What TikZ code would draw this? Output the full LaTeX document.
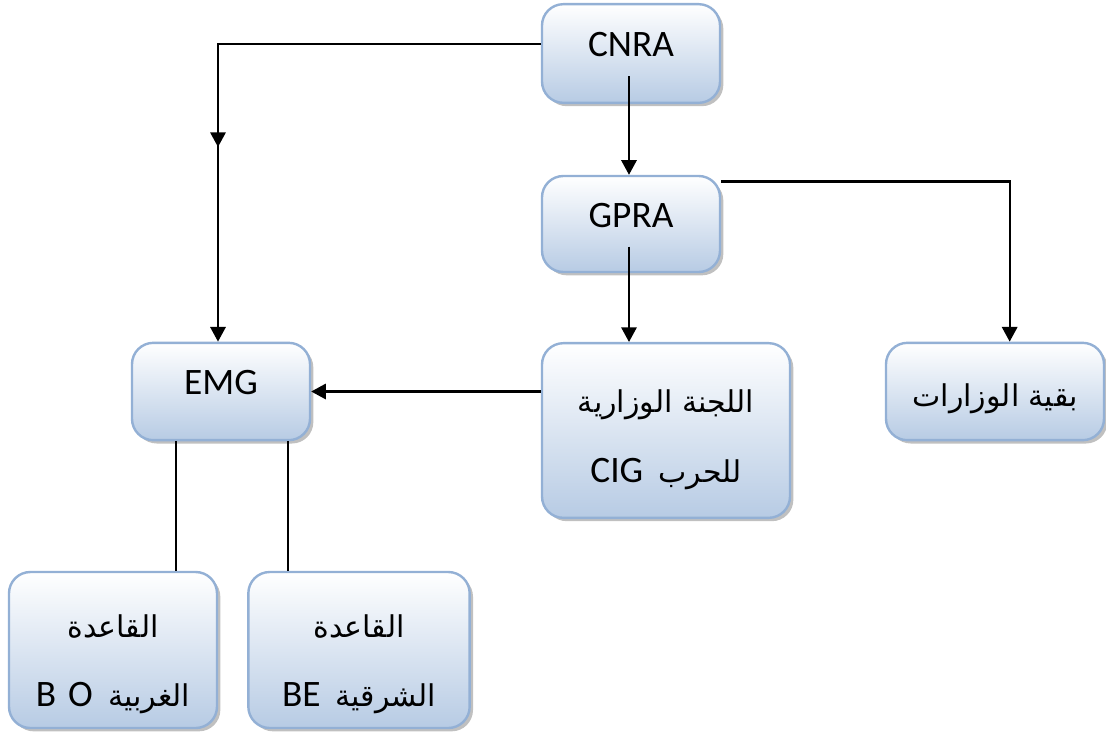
\documentclass[tikz,border=0pt]{standalone}
\usepackage{fontspec}
\setmainfont{Carlito}
\newfontfamily\arabicfont[Script=Arabic]{DejaVu Sans}
\TeXXeTstate=1
\usepackage{tikz}
\usetikzlibrary{shadows,arrows.meta}
\definecolor{boxline}{HTML}{93B0D5}
\definecolor{boxfill}{HTML}{B7CBE4}
\newcommand\ar[1]{{\arabicfont\fontsize{22.5}{52}\selectfont #1}}
\newcommand\lift[1]{\rule{0pt}{#1}}

\begin{document}
\begin{tikzpicture}[x=0.75pt,y=-0.75pt]
\tikzset{
  box/.style={draw=boxline, line width=1.8pt, rounded corners=16pt,
    top color=white, bottom color=boxfill, inner sep=0pt, align=center,
    drop shadow={shadow xshift=2.5pt, shadow yshift=-2.5pt, fill=black!45, opacity=.55},
    font=\fontsize{28}{34}\selectfont},
  latin/.style={box, text height=18pt, text depth=13pt},
  tall/.style={box, font=\fontsize{28}{52}\selectfont},
  link/.style={line width=1.6pt, -{Triangle[length=11pt,width=11.5pt]}},
  wire/.style={line width=1.6pt}
}
\useasboundingbox (0,0) rectangle (1106,733);
\node[latin, minimum width=133.5pt, minimum height=74pt] (cnra) at (631,53.5) {CNRA};
\node[latin, minimum width=133.5pt, minimum height=72pt] (gpra) at (631,224) {GPRA};
\node[tall, minimum width=186pt, minimum height=131pt] (cig) at (666,430.5)
  {\lift{31pt}\beginR\ar{اللجنة الوزارية}\endR\\ \beginR\ar{للحرب}\hspace{5pt} \beginL CIG\endL\endR};
\node[box, minimum width=163.5pt, minimum height=73pt] (rest) at (995,391.5)
  {\lift{28pt}\beginR\ar{بقية الوزارات}\endR};
\node[latin, minimum width=133.5pt, minimum height=73pt] (emg) at (221,391.5) {EMG};
\node[tall, minimum width=156pt, minimum height=117pt] (bo) at (113,650)
  {\lift{38pt}\beginR\ar{القاعدة}\endR\\ \beginR\ar{الغربية}\hspace{5pt} \beginL B\hspace{9pt}O\endL\endR};
\node[tall, minimum width=166pt, minimum height=117pt] (be) at (359,650)
  {\lift{38pt}\beginR\ar{القاعدة}\endR\\ \beginR\ar{الشرقية}\hspace{5pt} \beginL BE\endL\endR};
% connectors
\coordinate (mid) at (218,147);
\draw[link] ([yshift=7pt]cnra.west) -| (mid);
\draw[wire] ([yshift=12pt]mid) -- (mid);
\draw[link] (mid) -- (mid |- emg.north);
\draw[link] ([xshift=-1.5pt,yshift=21pt]cnra.south) -- ([xshift=-1.5pt]gpra.north);
\draw[link] ([xshift=-1.5pt,yshift=20pt]gpra.south) -- ([xshift=-1.5pt]gpra.south |- cig.north);
\draw[link] ([yshift=-5pt]gpra.north east) -| ([xshift=11pt]rest.north);
\draw[link] (cig.west |- emg.east) -- (emg.east);
\draw[wire] ([xshift=-34pt]emg.south) -- ([xshift=-34pt]emg.south |- bo.north);
\draw[wire] ([xshift=50pt]emg.south) -- ([xshift=50pt]emg.south |- be.north);
\end{tikzpicture}
\end{document}
